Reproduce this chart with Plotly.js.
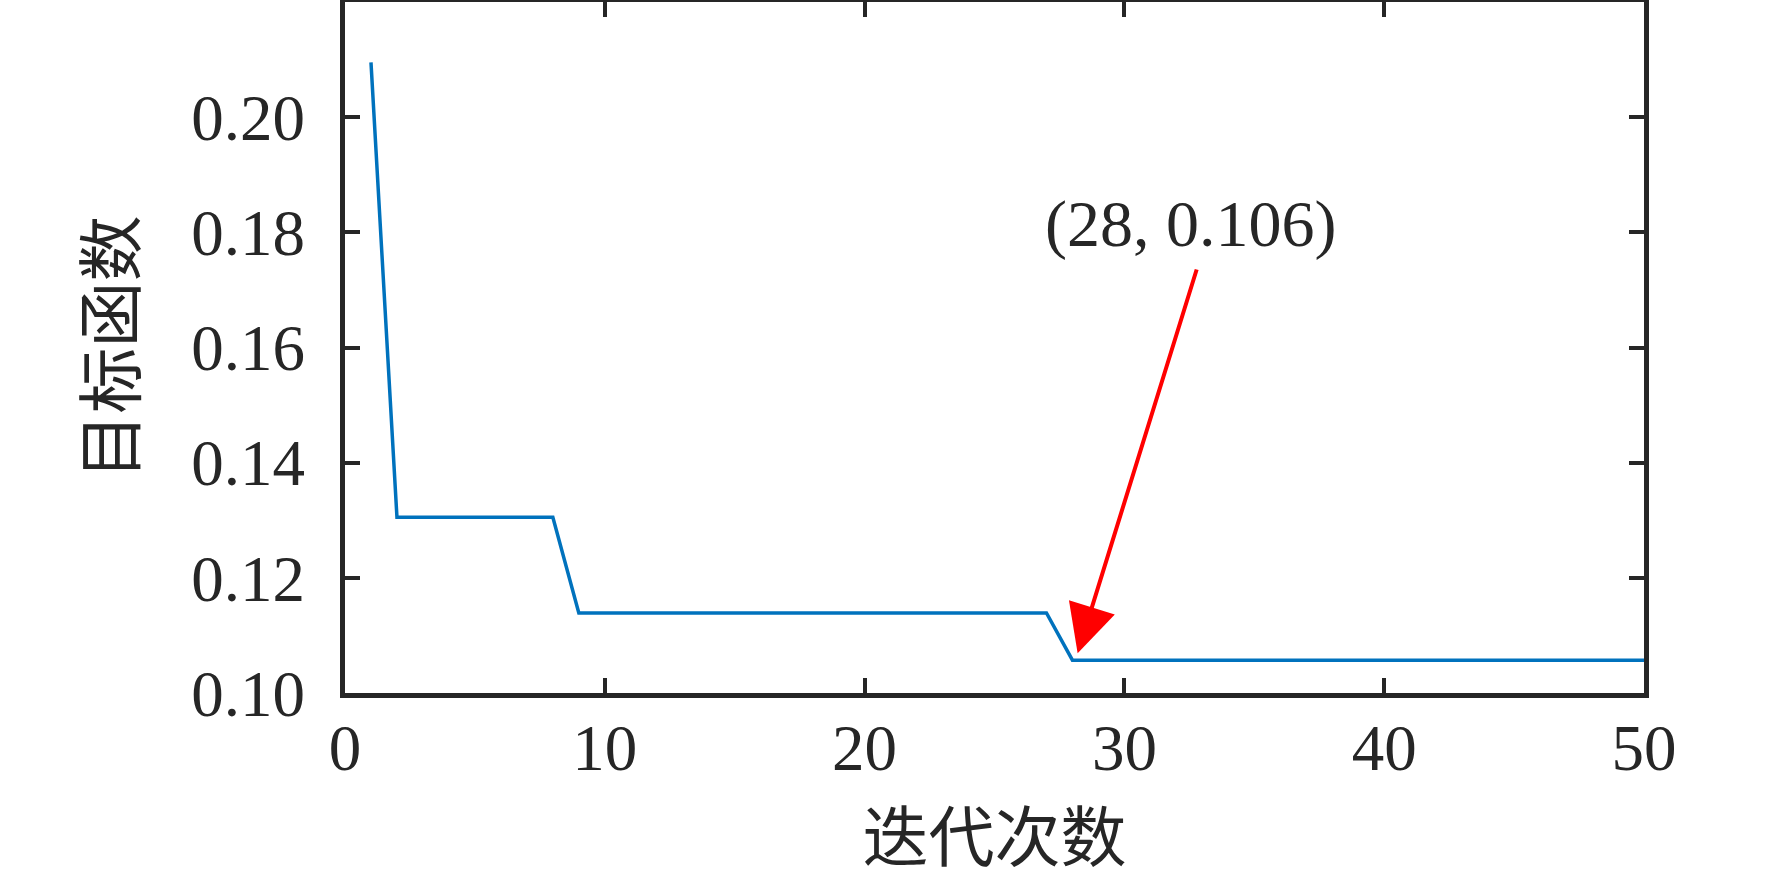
<!DOCTYPE html>
<html>
<head>
<meta charset="utf-8">
<script src="https://cdn.plot.ly/plotly-3.0.1.min.js"></script>
<style>html,body{margin:0;padding:0;background:#fff;}#chart{width:1772px;height:886px;}</style>
</head>
<body>
<div id="chart"></div>
<script>
const iterations = [1,2,3,4,5,6,7,8,9,10,11,12,13,14,15,16,17,18,19,20,21,22,23,24,25,26,27,28,29,30,31,32,33,34,35,36,37,38,39,40,41,42,43,44,45,46,47,48,49,50];
const objective = [0.2095,0.1305,0.1305,0.1305,0.1305,0.1305,0.1305,0.1305,
  0.1139,0.1139,0.1139,0.1139,0.1139,0.1139,0.1139,0.1139,0.1139,0.1139,0.1139,0.1139,0.1139,0.1139,0.1139,0.1139,0.1139,0.1139,0.1139,
  0.1057,0.1057,0.1057,0.1057,0.1057,0.1057,0.1057,0.1057,0.1057,0.1057,0.1057,0.1057,0.1057,0.1057,0.1057,0.1057,0.1057,0.1057,0.1057,0.1057,0.1057,0.1057,0.1057];
const xTicks = [0,10,20,30,40,50];
const yTicks = [0.10,0.12,0.14,0.16,0.18,0.20];
const annotText = "(28, 0.106)";
const annotPoint = [28.2, 0.1069];
const annotTail = [32.8, 0.1738];
const annotLabelPos = [32.55, 0.1815];

const serif = "'Liberation Serif','Times New Roman',serif";
const cjk = "'Noto Sans CJK SC','Liberation Serif',serif";
const ink = "#262626";

const trace = {
  x: iterations, y: objective, type: 'scatter', mode: 'lines',
  line: {color: '#0072BD', width: 3.5}, hoverinfo: 'skip'
};

const axisCommon = {
  showline: true, linecolor: ink, linewidth: 5, mirror: 'ticks',
  ticks: 'inside', ticklen: 15, tickwidth: 4, tickcolor: ink,
  showgrid: false, zeroline: false,
  tickfont: {family: serif, size: 65, color: ink}
};

const layout = {
  width: 1772, height: 886,
  margin: {l: 345, r: 128, t: 2, b: 193},
  paper_bgcolor: '#fff', plot_bgcolor: '#fff',
  showlegend: false,
  xaxis: Object.assign({}, axisCommon, {
    range: [0, 50], tickvals: xTicks, ticktext: xTicks.map(String),
    ticklabelstandoff: -6,
    title: {text: '迭代次数', font: {family: cjk, size: 66, color: ink}, standoff: 18}
  }),
  yaxis: Object.assign({}, axisCommon, {
    range: [0.10, 0.22], tickvals: yTicks, ticktext: yTicks.map(v => v.toFixed(2)),
    ticklabelstandoff: 22,
    title: {text: '目标函数', font: {family: cjk, size: 66, color: ink}, standoff: 36}
  }),
  annotations: [
    {x: annotPoint[0], y: annotPoint[1], xref: 'x', yref: 'y',
     ax: annotTail[0], ay: annotTail[1], axref: 'x', ayref: 'y',
     text: '', showarrow: true, arrowhead: 2, arrowsize: 2.4, arrowwidth: 4,
     arrowcolor: '#FF0000', standoff: 0},
    {x: annotLabelPos[0], y: annotLabelPos[1], xref: 'x', yref: 'y',
     text: annotText, showarrow: false,
     font: {family: serif, size: 66, color: ink}}
  ]
};

Plotly.newPlot('chart', [trace], layout, {staticPlot: true, displayModeBar: false});
</script>
</body>
</html>
